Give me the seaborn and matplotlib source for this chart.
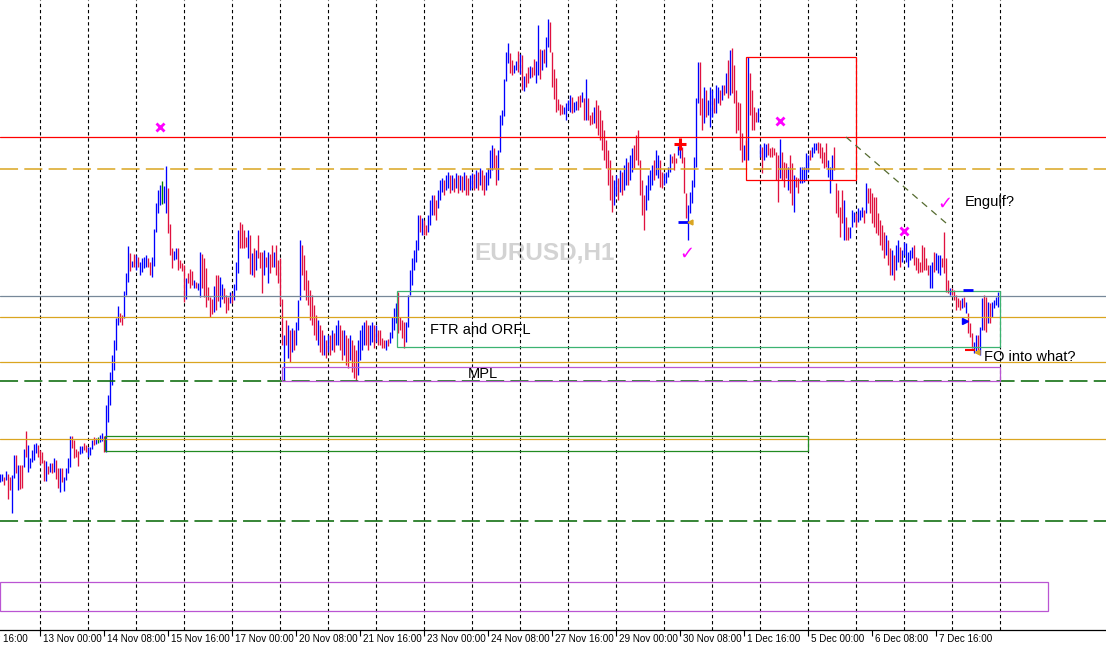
import numpy as np
import pandas as pd
import matplotlib
matplotlib.use("Agg")
import matplotlib.pyplot as plt
from matplotlib.patches import Rectangle
import seaborn as sns

# ---------------- data (prices in half-pip units above BASE) ----------------
BASE = 1.16550
STEP = 0.00005

bar_high = [
    156,156,153,159,156,153,155,175,175,165, 165,165,181,199,185,172,180,186,187,185,
    180,178,170,169,164,167,167,172,170,162, 162,162,153,162,172,194,194,190,181,179,
    184,184,187,185,183,183,190,193,192,193, 195,197,194,225,235,258,275,290,312,324,
    317,315,339,357,384,377,369,376,375,373, 368,372,373,375,372,368,373,401,427,440,
    445,449,444,464,442,406,382,379,382,382, 370,367,365,352,357,361,359,350,348,347,
    378,376,372,362,343,333,331,344,355,355, 353,346,342,335,333,338,337,346,368,400,
    408,406,400,393,400,395,377,382,380,395, 378,378,380,373,378,376,385,378,385,370,
    372,331,295,310,305,300,302,300,308,330, 390,385,375,360,350,340,335,325,315,310,
    305,300,295,290,295,295,300,297,305,310, 305,300,300,295,292,295,290,285,280,290,
    300,305,308,310,305,305,308,305,305,300, 300,292,290,290,291,298,313,322,327,338,
    313,310,308,308,335,360,372,380,390,415, 415,412,410,405,415,430,435,435,430,440,
    450,452,450,455,458,455,455,452,457,455, 455,454,458,455,452,455,457,456,460,458,
    462,460,455,458,462,480,485,482,475,480, 515,520,551,578,587,577,570,565,569,579,
    576,575,554,557,563,564,563,571,569,605, 581,580,581,593,611,608,578,561,552,531,
    526,525,523,527,530,535,533,528,529,534, 535,538,532,551,532,515,518,523,530,525,
    520,510,500,490,480,470,455,450,455,452, 460,458,465,472,468,475,482,485,495,500,
    470,450,435,445,455,460,465,470,480,475, 470,458,457,458,463,476,474,477,472,484,
    482,483,473,437,425,438,450,473,532,568, 568,532,543,540,530,543,540,532,545,543,
    540,545,545,557,570,580,582,565,540,528, 527,497,485,490,573,557,540,523,518,522,
    485,483,487,486,487,482,483,482,478,475, 491,478,468,467,463,475,467,455,453,452,
    463,463,463,477,475,480,483,487,487,488, 487,483,478,487,470,463,475,483,447,440,
    423,440,430,413,403,403,420,418,417,422, 420,423,420,447,442,442,437,433,433,417,
    410,405,398,395,390,382,380,375,385,390, 383,380,388,387,378,380,383,385,373,372,
    368,385,383,372,365,365,368,378,377,375, 375,372,398,372,350,342,342,340,335,332,
    330,332,333,328,317,307,297,288,295,295, 303,332,335,333,328,327,328,330,333,338,
]
bar_low = [
    148,149,145,150,131,140,117,152,157,140, 141,142,163,173,158,162,168,170,177,173,
    166,167,149,149,156,158,157,158,151,142, 138,148,139,150,157,163,182,172,173,164,
    176,177,180,178,173,175,181,185,186,187, 188,189,178,178,208,225,245,260,280,305,
    308,305,312,335,348,359,363,363,360,363, 355,358,362,363,363,355,353,364,398,417,
    425,426,427,417,397,375,362,370,371,360, 362,359,328,331,347,342,345,342,342,340,
    333,342,333,323,330,313,316,318,320,329, 323,331,327,317,320,327,327,330,340,357,
    382,382,382,383,372,356,355,353,360,372, 362,337,355,363,347,357,363,363,355,347,
    325,285,250,285,272,268,278,280,285,300, 330,355,340,330,325,310,305,295,290,285,
    278,275,275,272,278,275,280,278,285,285, 280,270,275,265,262,270,258,252,250,255,
    270,280,285,285,280,285,288,282,288,285, 285,282,282,280,284,287,292,300,307,297,
    300,292,282,288,303,335,345,360,368,380, 398,395,395,395,398,405,415,415,410,422,
    430,438,435,440,442,437,440,438,442,437, 440,438,440,435,435,440,442,440,442,440,
    445,440,435,440,445,452,460,462,445,450, 478,505,514,549,567,557,555,557,560,558,
    556,540,539,543,547,552,553,555,547,555, 551,560,567,563,583,578,543,531,518,520,
    515,516,516,510,520,518,517,518,520,520, 523,528,510,510,510,505,506,507,502,495,
    490,480,470,462,445,430,418,425,435,430, 438,435,440,445,445,450,458,462,470,465,
    435,415,400,420,430,440,445,450,455,452, 443,442,445,447,453,458,467,460,467,475,
    472,467,437,412,390,417,427,443,463,527, 515,500,507,513,515,503,513,517,517,527,
    525,530,535,537,532,535,537,527,497,500, 480,468,470,470,470,515,500,500,508,508,
    473,457,470,473,475,473,473,475,450,428, 452,450,443,452,440,437,425,418,443,437,
    447,447,448,450,458,470,473,477,480,477, 472,467,462,463,453,437,450,460,417,413,
    393,407,390,390,390,392,403,408,403,408, 410,413,407,417,427,417,407,403,397,395,
    385,380,372,375,365,355,355,350,360,368, 363,368,375,368,363,370,372,365,360,357,
    358,358,360,360,355,342,342,358,360,357, 355,363,357,338,337,335,335,330,320,323,
    320,322,323,317,297,293,282,277,278,280, 275,300,300,298,307,307,313,322,325,323,
]
# b = bullish bar, r = bearish bar, g = unchanged bar
bar_dir = (
    "bbrbrrbbrb rrbrbbbbbr rrrbrbrbrr brbbbbrrrr bbrrbbbrbg "
    "bbrbbbbbbb rrbbbrbrbr bbbbrrbbbb bgbbrrrbbr rrrbrrrbrb "
    "brrrrrrbrr bbrrrbrbbb rrrrbrbrbr rrbrbrrbrr rrbrbrbrbb "
    "brrrrrrrrb rrbrbrbrbb rrbrrbrrrb bbbrrbbrbr rrrbrbbbbr "
    "rrrbbbbbbb rbrrbbbrrb bbrbbrbrbr brbrrbbrbr brrbbbbrrb "
    "bbbbbrrbbr brbrrbrrbb rbrbbrrrrr rrbbbbrbbr rbrbrrrbrr "
    "rrrrrrrbbr brbbrbbrrr rrrbbbbrbb rrbbbbrrrb brrrbbbbbb "
    "rrbrbbbrbb rbrbrbrrrr rrbrbrrrrb brbbrrrrrr brrrbrrbrr "
    "bbbbbrbbbr rrrrbbbrrr rrbrrbbbrb bbrbrrrrrr rrrbrrbrbb "
    "rbbbbbbrrr rrrrrbbrbb brrrrbrrrr rbrbrrrbbr bbrrbrbbbb"
)

tick_bars = [-12, 20, 52, 84, 116, 148, 180, 212, 244, 276, 308, 340, 372, 404, 436, 468]
tick_labels = ["10 Nov 16:00", "13 Nov 00:00", "14 Nov 08:00", "15 Nov 16:00",
               "17 Nov 00:00", "20 Nov 08:00", "21 Nov 16:00", "23 Nov 00:00",
               "24 Nov 08:00", "27 Nov 16:00", "29 Nov 00:00", "30 Nov 08:00",
               "1 Dec 16:00", "5 Dec 00:00", "6 Dec 08:00", "7 Dec 16:00"]
grid_bars = list(range(20, 501, 24))

# horizontal levels (half-pips above BASE)
solid_levels = [493, 334, 313, 268, 191]
solid_colors = ["#FF0000", "#778899", "#DAA520", "#DAA520", "#DAA520"]
dashed_levels = [461, 249, 109]
dashed_colors = ["#DAA520", "#006400", "#006400"]

# rectangles: (bar_from, bar_to, low, high, colour)
box_from = [373, 198.5, 141, 52.5, 0]
box_to = [428, 500, 500, 404, 524]
box_low = [450, 283, 249, 179, 19]
box_high = [573, 339, 263, 194, 48]
box_colors = ["#FF0000", "#3CB371", "#BA55D3", "#228B22", "#BA55D3"]

trend_bars = [423, 473]
trend_vals = [493, 407]

stop_bars = [80, 390, 452]
stop_vals = [503, 509, 399]
check_bars = [343.5, 472.5]
check_vals = [376, 426]

labels_text = ["FTR and ORFL", "MPL", "Engulf?", "FO into what?"]
labels_bar = [215, 234, 482.5, 492]
labels_val = [300, 256, 428, 273]


def price(v):
    return BASE + np.asarray(v, dtype=float) * STEP


# ---------------- style ----------------
sns.set_theme(style="white")
plt.rcParams["font.family"] = ["Liberation Sans", "DejaVu Sans"]
plt.rcParams["lines.scale_dashes"] = False

fig = plt.figure(figsize=(11.06, 6.51), dpi=100)
ax = fig.add_axes([0, 21 / 651, 1, 630 / 651])
ax.set_facecolor("white")
ax.set_xlim(0, 553)
ax.set_ylim(price(0), price(630))

# grid
for g in grid_bars:
    ax.axvline(g, color="black", lw=0.8, linestyle=(0, (2.4, 2.0)), zorder=1)

# watermark
ax.text(272.5, price(377), "EURUSD,H1", color="#D3D3D3", fontsize=17.5,
        fontweight="bold", ha="center", va="center", zorder=0.5)

# OHLC bars
hi = price(bar_high)
lo = price(bar_low)
dirs = np.array(list(bar_dir.replace(" ", "")))
idx = np.arange(len(hi))
bar_cols = {"b": "#0000FF", "r": "#E0113F", "g": "#008000"}
for k, col in bar_cols.items():
    m = dirs == k
    ax.vlines(idx[m], lo[m], hi[m], colors=col, linewidth=0.95, zorder=2)

# levels
for lv, c in zip(solid_levels, solid_colors):
    ax.axhline(price(lv), color=c, lw=0.9, zorder=3)
for lv, c in zip(dashed_levels, dashed_colors):
    ax.axhline(price(lv), color=c, lw=1.1, linestyle=(0, (13, 4.5)), zorder=3)

# boxes
for b0, b1, l, h, c in zip(box_from, box_to, box_low, box_high, box_colors):
    ax.add_patch(Rectangle((b0, price(l)), b1 - b0, price(h) - price(l),
                           fill=False, edgecolor=c, lw=0.9, zorder=3))

# trend line via seaborn
trend_df = pd.DataFrame({"bar": trend_bars, "price": price(trend_vals)})
sns.lineplot(data=trend_df, x="bar", y="price", ax=ax, color="#556B2F",
             lw=0.9, linestyle=(0, (5, 4)), zorder=3)

# markers
ax.plot(stop_bars, price(stop_vals), linestyle="none", marker="x",
        color="#FF00FF", ms=5.5, mew=2, zorder=4)
for b, v in zip(check_bars, check_vals):
    ax.text(b, price(v), "\u2713", color="#FF00FF", fontsize=13,
            fontweight="bold", ha="center", va="center", zorder=4,
            family=["DejaVu Sans"])
ax.plot([340], price([486]), linestyle="none", marker="+", color="#FF0000",
        ms=8, mew=2.2, zorder=4)
ax.plot([341.5, 484], price([408, 340]), linestyle="none", marker="_",
        color="#0000FF", ms=7, mew=2, zorder=4)
ax.plot([485], price([280]), linestyle="none", marker="_", color="#FF0000",
        ms=7, mew=1.5, zorder=4)
ax.plot([482.5], price([309]), linestyle="none", marker=">", color="#0000FF",
        ms=4.5, zorder=4)
ax.plot([345, 488.5], price([408, 278]), linestyle="none", marker="<",
        color="#DAA520", ms=3.5, zorder=4)

# annotations
for t, b, v in zip(labels_text, labels_bar, labels_val):
    ax.text(b, price(v), t, fontsize=10.5, color="black", ha="left",
            va="center", zorder=5)

# axes cosmetics
for s in ["top", "left", "right"]:
    ax.spines[s].set_visible(False)
ax.spines["bottom"].set_color("black")
ax.spines["bottom"].set_linewidth(0.9)
ax.set_yticks([])
vis = [t for t in tick_bars if 0 <= t <= 553]
ax.set_xticks(vis)
ax.set_xticklabels([""] * len(vis))
ax.tick_params(axis="x", direction="out", length=4.3, width=0.8, color="black",
               bottom=True)
ax.set_xlabel("")
ax.set_ylabel("")
for t, lab in zip(tick_bars, tick_labels):
    shift = -3.5 if t < 0 else 1.5
    ax.text(t + shift, -0.0135, lab, transform=ax.get_xaxis_transform(),
            fontsize=7.1, color="black", ha="left", va="center", clip_on=False)

fig.savefig("out.png", dpi=100)
